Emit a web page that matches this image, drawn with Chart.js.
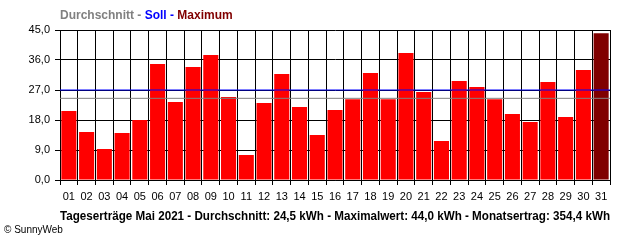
<!DOCTYPE html>
<html>
<head>
<meta charset="utf-8">
<script src="https://cdn.jsdelivr.net/npm/chart.js@4/dist/chart.umd.min.js"></script>
<style>
  html,body{margin:0;padding:0;background:#fff;}
  #wrap{position:relative;width:640px;height:240px;overflow:hidden;}
  #c{position:absolute;left:0;top:0;}
  .t{position:absolute;white-space:nowrap;font-family:"Liberation Sans",Arial,sans-serif;}
  #legend{left:60px;top:8px;font-size:12px;font-weight:bold;color:#808080;}
  #footer{left:60px;top:209px;font-size:12px;font-weight:bold;color:#000;transform-origin:0 50%;}
  #copy{left:4px;top:224px;font-size:10px;color:#000;}
</style>
</head>
<body>
<div id="wrap">
  <canvas id="c" width="640" height="240"></canvas>
  <div class="t" id="legend"><span style="color:#808080">Durchschnitt - </span><span style="color:#0000ff">Soll - </span><span style="color:#800000">Maximum</span></div>
  <div class="t" id="footer">Tageserträge Mai 2021 - Durchschnitt: 24,5 kWh - Maximalwert: 44,0 kWh - Monatsertrag: 354,4 kWh</div>
  <div class="t" id="copy">© SunnyWeb</div>
</div>
<script>
const days = ["01","02","03","04","05","06","07","08","09","10","11","12","13","14","15","16","17","18","19","20","21","22","23","24","25","26","27","28","29","30","31"];
const yields = [20.7,14.4,9.3,14.1,18.0,34.8,23.4,33.9,37.5,24.9,7.5,23.1,31.8,21.9,13.5,21.0,24.2,32.1,24.2,38.1,26.4,11.7,29.7,27.9,24.2,19.8,17.4,29.4,18.9,33.0,44.0];
const average = 24.5;
const target = 27.0;
const yTicks = [0, 9, 18, 27, 36, 45];

const maxVal = Math.max(...yields);
const barColors = yields.map(v => v === maxVal ? '#800000' : '#ff0000');

// fit footer text to the plot width like the original narrow bitmap font
const footer = document.getElementById('footer');
const fw = footer.getBoundingClientRect().width;
footer.style.transform = 'scaleX(' + (550 / fw) + ')';

new Chart(document.getElementById('c'), {
  data: {
    labels: days,
    datasets: [
      {
        type: 'line', label: 'Soll', xAxisID: 'x2', order: 0,
        data: [{x:0, y:target},{x:1, y:target}],
        borderColor: '#0000ff', borderWidth: 1, pointRadius: 0, fill: false
      },
      {
        type: 'line', label: 'Durchschnitt', xAxisID: 'x2', order: 0,
        data: [{x:0, y:average},{x:1, y:average}],
        borderColor: '#808080', borderWidth: 1, pointRadius: 0, fill: false
      },
      {
        type: 'bar', label: 'Tagesertrag', order: 1, grouped: false,
        data: yields, backgroundColor: barColors, borderWidth: 0,
        barPercentage: 0.85, categoryPercentage: 1.0
      }
    ]
  },
  options: {
    responsive: false,
    animation: false,
    devicePixelRatio: 1,
    layout: { padding: { left: 0, right: 30, top: 30, bottom: 36 } },
    plugins: { legend: { display: false }, title: { display: false }, tooltip: { enabled: false } },
    scales: {
      x: {
        type: 'category',
        offset: true,
        grid: { color: '#000', lineWidth: 1, offset: true, tickLength: 5, drawTicks: true },
        border: { color: '#000', width: 1 },
        ticks: { color: '#000', font: { family: 'Liberation Sans, Arial', size: 11 }, padding: 5, maxRotation: 0, autoSkip: false },
        afterFit: s => { s.height = 24; }
      },
      x2: { type: 'linear', min: 0, max: 1, display: false },
      y: {
        min: 0, max: 45,
        afterBuildTicks: s => { s.ticks = yTicks.map(v => ({ value: v })); },
        grid: { color: '#000', lineWidth: 1, tickLength: 5, drawTicks: true },
        border: { color: '#000', width: 1 },
        ticks: {
          color: '#000', font: { family: 'Liberation Sans, Arial', size: 11 }, padding: 5,
          callback: v => v.toFixed(1).replace('.', ',')
        },
        afterFit: s => { s.width = 60; }
      }
    }
  }
});
</script>
</body>
</html>
